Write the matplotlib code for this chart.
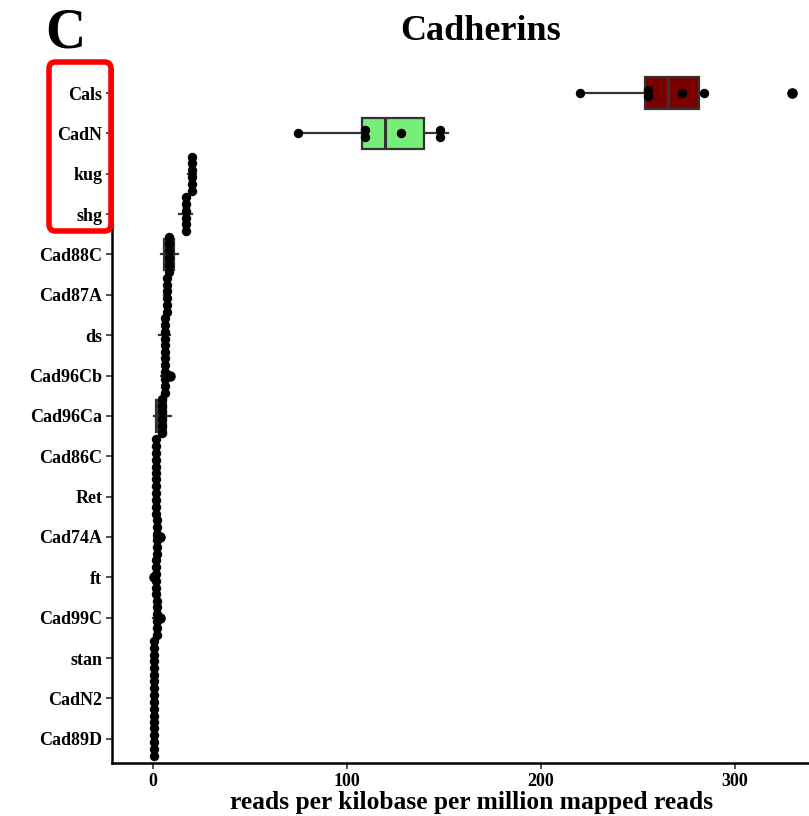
import numpy as np
import matplotlib
matplotlib.use("Agg")
import matplotlib.pyplot as plt
from matplotlib.patches import FancyBboxPatch

# ---- data (RPKM, 6 replicates per gene) ----
genes = ["Cals", "CadN", "kug", "shg", "Cad88C", "Cad87A", "ds", "Cad96Cb",
         "Cad96Ca", "Cad86C", "Ret", "Cad74A", "ft", "Cad99C", "stan", "CadN2", "Cad89D"]
values = {
    "Cals":    [220.0, 252.0, 258.4, 273.0, 284.2, 329.7],
    "CadN":    [74.5, 106.5, 111.5, 127.7, 143.8, 152.2],
    "kug":     [17.8, 18.5, 19.5, 20.5, 21.5, 21.8],
    "shg":     [13.5, 15.5, 16.2, 17.0, 17.8, 19.8],
    "Cad88C":  [3.8, 5.0, 7.5, 9.0, 11.5, 12.6],
    "Cad87A":  [5.5, 6.3, 6.8, 7.2, 7.6, 8.2],
    "ds":      [3.2, 4.8, 5.5, 6.0, 6.8, 8.4],
    "Cad96Cb": [4.0, 4.9, 5.2, 5.5, 5.9, 8.6],
    "Cad96Ca": [0.2, 0.8, 3.0, 5.0, 7.2, 9.0],
    "Cad86C":  [0.3, 0.9, 1.3, 1.6, 2.0, 2.5],
    "Ret":     [0.4, 1.0, 1.4, 1.7, 2.1, 2.6],
    "Cad74A":  [0.6, 1.2, 1.4, 1.6, 1.8, 3.5],
    "ft":      [0.2, 1.3, 1.5, 1.7, 1.9, 2.1],
    "Cad99C":  [0.0, 0.6, 0.8, 1.0, 1.2, 3.6],
    "stan":    [0.1, 0.3, 0.4, 0.5, 0.6, 0.9],
    "CadN2":   [0.0, 0.2, 0.3, 0.4, 0.5, 0.7],
    "Cad89D":  [0.0, 0.1, 0.2, 0.3, 0.4, 0.6],
}
box_colors = {"Cals": "#7a0000", "CadN": "#77ee77"}
default_box = "#34344c"
xticks = [0, 100, 200, 300]
title = "Cadherins"
xlabel = "reads per kilobase per million mapped reads"

SERIF = ["Liberation Serif", "DejaVu Serif"]
plt.rcParams["font.family"] = SERIF
plt.rcParams["font.weight"] = "bold"

W, H = 809, 816
fig = plt.figure(figsize=(W / 100, H / 100), dpi=100)
ax = fig.add_axes([112 / W, (H - 763) / H, (W - 112) / W, (763 - 68.8) / H])

n = len(genes)
ypos = {g: n - 1 - i for i, g in enumerate(genes)}

# boxplots
data = [values[g] for g in genes]
pos = [ypos[g] for g in genes]
bp = ax.boxplot(data, positions=pos, vert=False, widths=0.78, patch_artist=True,
                showfliers=True, manage_ticks=False,
                medianprops=dict(color="#333333", linewidth=2.2),
                whiskerprops=dict(color="#333333", linewidth=1.6),
                capprops=dict(linewidth=0),
                boxprops=dict(edgecolor="#333333", linewidth=1.6),
                flierprops=dict(marker="o", markerfacecolor="black",
                                markeredgecolor="black", markersize=6.6))
for patch, g in zip(bp["boxes"], genes):
    patch.set_facecolor(box_colors.get(g, default_box))

# dotplot (density binning, centered stacks)
bw = 10.0
step = 0.17
for g in genes:
    v = sorted(values[g])
    bins = []
    cur = [v[0]]
    for x in v[1:]:
        if x < cur[0] + bw:
            cur.append(x)
        else:
            bins.append(cur)
            cur = [x]
    bins.append(cur)
    xs, ys = [], []
    for b in bins:
        c = (b[0] + b[-1]) / 2
        k = len(b)
        for j in range(k):
            xs.append(c)
            ys.append(ypos[g] + (j - (k - 1) / 2) * step)
    ax.scatter(xs, ys, s=46, color="black", zorder=5, linewidths=0)

ax.set_xlim(-21.3, 338.3)
ax.set_ylim(-0.6, n - 0.4)
ax.set_yticks([ypos[g] for g in genes])
ax.set_yticklabels(genes, fontsize=13, fontweight="bold")
ax.set_xticks(xticks)
ax.set_xticklabels([str(t) for t in xticks], fontsize=13, fontweight="bold")
ax.spines["top"].set_visible(False)
ax.spines["right"].set_visible(False)
for s in ("left", "bottom"):
    ax.spines[s].set_linewidth(1.8)
    ax.spines[s].set_color("black")
ax.tick_params(axis="both", length=4, width=1.2, color="#333333", pad=3)
ax.set_xlabel(xlabel, fontsize=18.4, fontweight="bold")
ax.xaxis.set_label_coords((472 - 112) / (W - 112), -0.041)
ax.xaxis.label.set_horizontalalignment("center")
ax.xaxis.label.set_verticalalignment("top")

fig.text(481 / W, 1 - 32 / H, title, ha="center", va="center",
         fontsize=26, fontweight="bold")
fig.text(45 / W, 1 - 33 / H, "C", ha="left", va="center",
         fontsize=40, fontweight="bold")

rect = FancyBboxPatch((49 / W, 1 - 231 / H), (111 - 49) / W, (231 - 62) / H,
                      boxstyle="round,pad=0,rounding_size=0.008",
                      transform=fig.transFigure, fill=False,
                      edgecolor="#ff0000", linewidth=4, zorder=10)
fig.patches.append(rect)

fig.savefig("out.png", dpi=100)
